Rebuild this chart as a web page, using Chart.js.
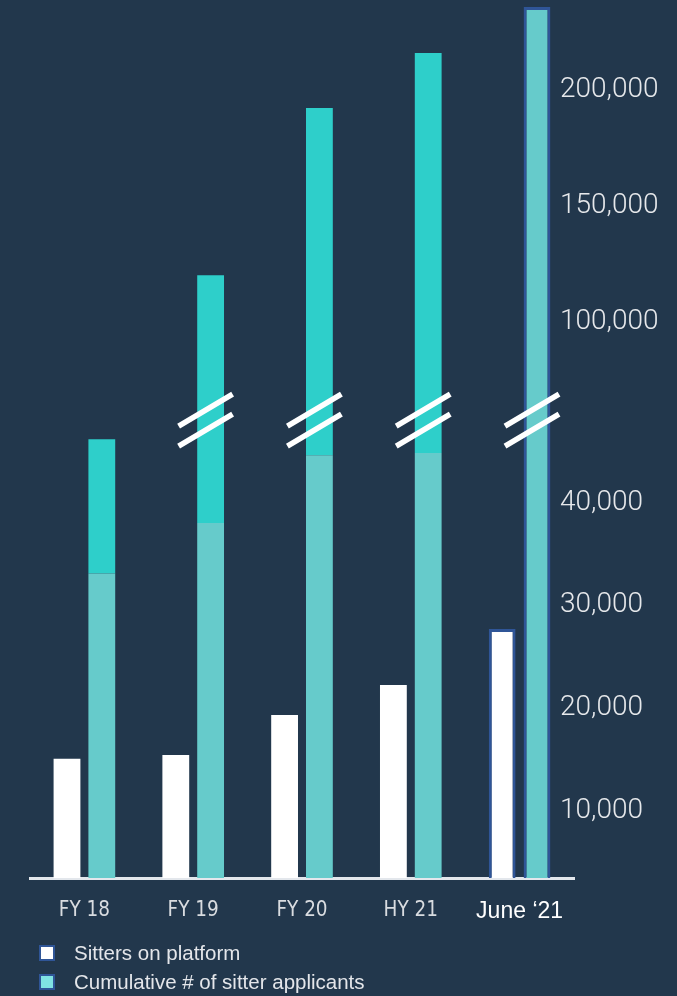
<!DOCTYPE html>
<html>
<head>
<meta charset="utf-8">
<title>Sitters</title>
<script src="https://cdn.jsdelivr.net/npm/chart.js@4.4.1/dist/chart.umd.min.js"></script>
<style>
  html, body { margin: 0; padding: 0; background: #22374c; }
  #wrap { position: relative; width: 677px; height: 996px; }
  #legend {
    position: absolute; left: 39px; top: 938px; margin: 0; padding: 0; list-style: none;
    font-family: "Liberation Sans", Arial, sans-serif; font-size: 20.5px; color: #e4e6ea;
  }
  #legend li { display: flex; align-items: center; height: 29px; }
  #legend span { display: inline-block; width: 12px; height: 12px; border: 2px solid #2f5597; margin-right: 19px; }
</style>
</head>
<body>
<div id="wrap">
  <canvas id="chart-bars" width="677" height="996"></canvas>
  <ul id="legend"></ul>
</div>
<script>
// chart data
var categories = ["FY 18", "FY 19", "FY 20", "HY 21", "June \u201821"];
var sitters = [15100, 15450, 19350, 22250, 27700];
var applicants = [33100, 38000, 44600, 44800, 235600];
var applicantsPeak = [46150, 120300, 192150, 215800, null]; // top of the bright cap
var yTicks = [10000, 20000, 30000, 40000, 100000, 150000, 200000];
var legendColors = ["#ffffff", "#80e3e3"];

// axis break: values between low and high are cut out
var yBreak = { low: 48000, high: 58000, at: 0.525 };

class BrokenScale extends Chart.LinearScale {
  buildTicks() {
    return yTicks.map(function (v) { return { value: v }; });
  }
  getPixelForValue(v) {
    var b = this.bottom, t = this.top;
    var p = b - (b - t) * yBreak.at;
    v = Math.min(Math.max(v, this.min), this.max);
    if (v <= yBreak.low) return b + (p - b) * (v - this.min) / (yBreak.low - this.min);
    if (v >= yBreak.high) return p + (t - p) * (v - yBreak.high) / (this.max - yBreak.high);
    return p;
  }
  getValueForPixel(px) {
    var b = this.bottom, t = this.top;
    var p = b - (b - t) * yBreak.at;
    if (px >= p) return this.min + (b - px) / (b - p) * (yBreak.low - this.min);
    return yBreak.high + (p - px) / (p - t) * (this.max - yBreak.high);
  }
  // labels hang over the plot a little, so don't clip them to the axis box
  _computeLabelArea() {
    return undefined;
  }
}
BrokenScale.id = "broken";
BrokenScale.defaults = {};
Chart.register(BrokenScale);

// the "//" marks over the bars that cross the break
var breakMarks = {
  id: "breakMarks",
  afterDatasetsDraw: function (chart) {
    var y = chart.scales.y, ctx = chart.ctx;
    var py = y.bottom - (y.bottom - y.top) * yBreak.at;
    var meta = chart.getDatasetMeta(1);
    ctx.save();
    ctx.strokeStyle = "#ffffff";
    ctx.lineWidth = 5.5;
    meta.data.forEach(function (bar, i) {
      var top = applicantsPeak[i] || applicants[i];
      if (top < yBreak.high) return;
      var cx = bar.x - 5;
      [-10, 10].forEach(function (off) {
        ctx.beginPath();
        ctx.moveTo(cx - 27, py + off + 16);
        ctx.lineTo(cx + 27, py + off - 16);
        ctx.stroke();
      });
    });
    ctx.restore();
  }
};

var ctx = document.getElementById("chart-bars").getContext("2d");

var chart = new Chart(ctx, {
  type: "bar",
  data: {
    labels: categories,
    datasets: [
      {
        label: "Sitters on platform",
        data: sitters,
        stack: "sitters",
        backgroundColor: "#ffffff",
        borderColor: "#2f5597",
        borderWidth: [0, 0, 0, 0, 3],
      },
      {
        label: "Cumulative # of sitter applicants",
        data: applicants,
        stack: "applicants",
        backgroundColor: "#66cbcb",
        borderColor: "#2f5597",
        borderWidth: [0, 0, 0, 0, 3],
      },
      {
        label: "cap",
        data: applicantsPeak.map(function (v, i) { return v ? v - applicants[i] : null; }),
        stack: "applicants",
        backgroundColor: "#2ecfca",
        borderWidth: 0,
      },
    ],
  },
  options: {
    responsive: false,
    animation: false,
    barPercentage: 0.77,
    categoryPercentage: 0.64,
    layout: { padding: { left: 30, top: 6, right: 0, bottom: 0 } },
    plugins: {
      legend: { display: false },
      tooltip: { enabled: false },
    },
    scales: {
      x: {
        stacked: true,
        grid: { display: false, drawTicks: false },
        border: { display: true, color: "#e3e7ec", width: 3 },
        ticks: {
          autoSkip: false,
          maxRotation: 0,
          padding: 20,
          color: function (c) { return c.index === 4 ? "#ffffff" : "#d9dce0"; },
          font: function (c) {
            return c.index === 4
              ? { family: "'Liberation Sans', Arial, sans-serif", size: 23 }
              : { family: "'DejaVu Sans Condensed', sans-serif", size: 20.5 };
          },
        },
        afterFit: function (s) { s.height = 118; },
      },
      y: {
        type: "broken",
        position: "right",
        stacked: true,
        min: 3500,
        max: 236000,
        grid: { display: false, drawTicks: false },
        border: { display: false },
        ticks: {
          autoSkip: false,
          padding: -14,
          color: "#e6e8eb",
          font: { family: "Roboto", weight: 300, size: 28 },
          callback: function (v) { return v.toLocaleString("en-US"); },
        },
        afterFit: function (s) { s.width = 103; },
      },
    },
  },
  plugins: [breakMarks],
});

// html legend
var legendEl = document.getElementById("legend");
chart.data.datasets.slice(0, 2).forEach(function (ds, i) {
  var li = document.createElement("li");
  var box = document.createElement("span");
  box.style.background = legendColors[i];
  li.appendChild(box);
  li.appendChild(document.createTextNode(ds.label));
  legendEl.appendChild(li);
});
</script>
</body>
</html>
